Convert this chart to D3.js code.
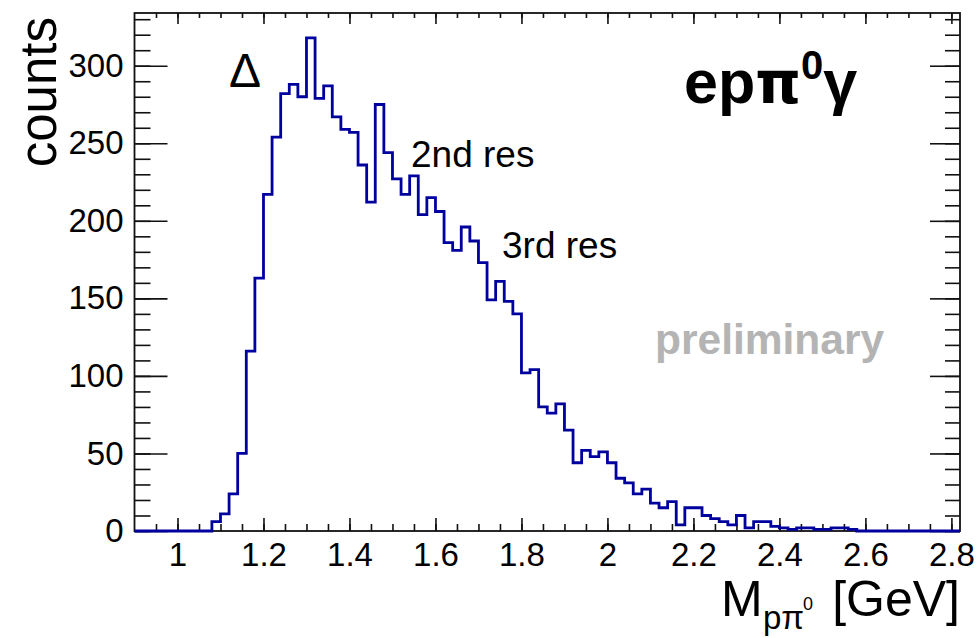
<!DOCTYPE html>
<html>
<head>
<meta charset="utf-8">
<script src="https://cdn.jsdelivr.net/npm/d3@7"></script>
<style>
  html, body { margin: 0; padding: 0; background: #fff; }
  svg { display: block; font-family: "Liberation Sans", Arial, Helvetica, sans-serif; }
</style>
</head>
<body>
<svg id="chart" width="979" height="638"></svg>
<script>
// ---- data ----
const binStart = 0.9;
const binWidth = 0.02;
const counts = [
  0, 0, 0, 0, 0, 0, 0, 0, 0,          // 0.90 - 1.06
  6, 11, 24, 50, 116, 163, 217, 254,  // 1.08 - 1.22
  282, 288, 280, 318, 279, 287, 267, 259, // 1.24 - 1.38
  257, 236, 212, 275, 244, 227, 217, 229, // 1.40 - 1.54
  204, 215, 206, 186, 181, 196, 187, 173, // 1.56 - 1.70
  149, 161, 148, 140, 102, 104, 80, 76,   // 1.72 - 1.86
  82, 65, 44, 52, 48, 51, 44, 34,         // 1.88 - 2.02
  31, 24, 27, 18, 15, 19, 4, 15,          // 2.04 - 2.18
  15, 10, 8, 6, 4, 10, 2, 6,              // 2.20 - 2.34
  6, 3, 2, 1, 2, 2, 1, 1,                 // 2.36 - 2.50
  2, 2, 1,                                // 2.52 - 2.56
  0, 0, 0, 0, 0, 0, 0, 0, 0, 0, 0, 0      // 2.58 - 2.80
];
const xMajorTicks = [1.0, 1.2, 1.4, 1.6, 1.8, 2.0, 2.2, 2.4, 2.6, 2.8];
const xTickLabels = ["1", "1.2", "1.4", "1.6", "1.8", "2", "2.2", "2.4", "2.6", "2.8"];
const yMajorTicks = [0, 50, 100, 150, 200, 250, 300];
const yTickLabels = ["0", "50", "100", "150", "200", "250", "300"];
const xDomain = [0.9, 2.82];
const yDomain = [0, 334];

// ---- layout ----
const svg = d3.select("#chart");
const L = 134.5, R = 960, T = 13, B = 531;
const x = d3.scaleLinear().domain(xDomain).range([L, R]);
const y = d3.scaleLinear().domain(yDomain).range([B, T]);

const xMinor = d3.range(19, 57).map(k => k * 0.05).filter(v => v > xDomain[0] && v < xDomain[1]);
const yMinor = d3.range(0, 34).map(k => k * 10).filter(v => v < yDomain[1]);

const axisColor = "#111";

function styleAxis(g) {
  g.select(".domain").remove();
  g.selectAll("line").attr("stroke", axisColor).attr("stroke-width", 1.6);
  g.selectAll("text").attr("fill", "#000").style("font-size", "33px")
    .style("font-family", '"Liberation Sans", Arial, Helvetica, sans-serif');
}

// bottom minor
svg.append("g").attr("transform", `translate(0,${B})`)
  .call(d3.axisBottom(x).tickValues(xMinor).tickSize(-7).tickFormat(""))
  .call(styleAxis);
// bottom major
svg.append("g").attr("transform", `translate(0,${B})`)
  .call(d3.axisBottom(x).tickValues(xMajorTicks).tickSize(-13).tickPadding(12)
    .tickFormat((d, i) => xTickLabels[i]))
  .call(styleAxis);
// top minor / major
svg.append("g").attr("transform", `translate(0,${T})`)
  .call(d3.axisTop(x).tickValues(xMinor).tickSize(-5).tickFormat(""))
  .call(styleAxis);
svg.append("g").attr("transform", `translate(0,${T})`)
  .call(d3.axisTop(x).tickValues(xMajorTicks).tickSize(-11).tickFormat(""))
  .call(styleAxis);
// left minor / major
svg.append("g").attr("transform", `translate(${L},0)`)
  .call(d3.axisLeft(y).tickValues(yMinor).tickSize(-16).tickFormat(""))
  .call(styleAxis);
svg.append("g").attr("transform", `translate(${L},0)`)
  .call(d3.axisLeft(y).tickValues(yMajorTicks).tickSize(-33).tickPadding(11)
    .tickFormat((d, i) => yTickLabels[i]))
  .call(styleAxis);
// right minor / major
svg.append("g").attr("transform", `translate(${R},0)`)
  .call(d3.axisRight(y).tickValues(yMinor).tickSize(-15).tickFormat(""))
  .call(styleAxis);
svg.append("g").attr("transform", `translate(${R},0)`)
  .call(d3.axisRight(y).tickValues(yMajorTicks).tickSize(-30).tickFormat(""))
  .call(styleAxis);

// frame
svg.append("rect").attr("x", L).attr("y", T).attr("width", R - L).attr("height", B - T)
  .attr("fill", "none").attr("stroke", axisColor).attr("stroke-width", 1.8);

// histogram
const pts = counts.map((c, i) => [binStart + i * binWidth, c]);
pts.push([binStart + counts.length * binWidth, counts[counts.length - 1]]);
const line = d3.line().x(d => x(d[0])).y(d => y(d[1])).curve(d3.curveStepAfter);
svg.append("path").datum(pts).attr("d", line)
  .attr("fill", "none").attr("stroke", "#00009e").attr("stroke-width", 2.8)
  .attr("stroke-linejoin", "miter");

// ---- texts ----
svg.append("text").attr("transform", "translate(56,17) rotate(-90)")
  .attr("text-anchor", "end").style("font-size", "51px").text("counts");

svg.append("text").attr("x", 721).attr("y", 616).style("font-size", "50px").text("M");
svg.append("text").attr("x", 763).attr("y", 629).style("font-size", "33px").text("pπ");
svg.append("text").attr("x", 803).attr("y", 610).style("font-size", "18px").text("0");
svg.append("text").attr("x", 960).attr("y", 616).attr("text-anchor", "end")
  .style("font-size", "50px").text("[GeV]");

svg.append("text").attr("x", 229).attr("y", 87).style("font-size", "48px").text("Δ");
svg.append("text").attr("x", 411).attr("y", 167).style("font-size", "37px").text("2nd res");
svg.append("text").attr("x", 502).attr("y", 258).style("font-size", "37px").text("3rd res");
svg.append("text").attr("x", 655).attr("y", 354).style("font-size", "42.5px")
  .style("font-weight", "bold").attr("fill", "#b4b4b4").text("preliminary");

const t = svg.append("text").attr("x", 684).attr("y", 103).style("font-size", "61px")
  .style("font-weight", "bold");
t.append("tspan").text("ep");
t.append("tspan").style("font-family", '"DejaVu Sans", sans-serif').style("font-size", "58px").text("π");
t.append("tspan").attr("dy", -24).style("font-size", "40px").text("0");
t.append("tspan").attr("dy", 24).text("γ");
</script>
</body>
</html>
